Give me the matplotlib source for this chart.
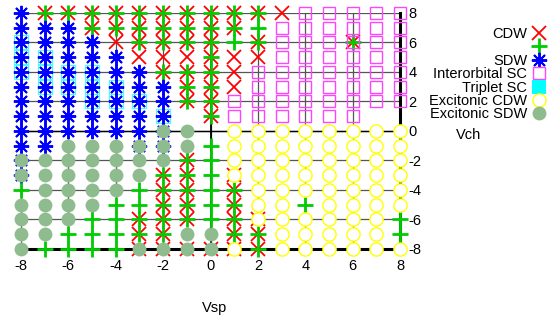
import matplotlib
matplotlib.use("Agg")
import matplotlib.pyplot as plt
from matplotlib.lines import Line2D

plt.rcParams['font.family'] = ['Liberation Sans', 'DejaVu Sans']
plt.rcParams['font.size'] = 10.5
plt.rcParams['axes.unicode_minus'] = False

# phase points: Vch -> list of Vsp
cdw = {8: list(range(-7, 4)), 7: list(range(-5, 2)), 6: [-4, -3, -2, -1, 0, 2, 6],
       5: [-3, -2, -1, 0, 1, 2], 4: [-2, -1, 0, 1], 3: [-1, 0, 1], 2: [-1, 0], 1: [0],
       -2: [-1], -3: [-2, -1, 1], -4: [-2, -1, 1], -5: [-2, -1, 1],
       -6: [-3, -2, -1, 1, 2], -7: [-3, -2, 1, 2], -8: [-3, -2, -1, 0, 1, 2]}
plus = {8: list(range(-7, 3)), 7: list(range(-5, 3)), 6: [-3, -2, -1, 0, 1, 2, 6],
        5: [0], 4: [-2, -1, 0], 3: [-1, 0], 2: [-1, 0], 1: [0], -1: [0],
        -2: [-1, 0], -3: [-2, -1, 0], -4: [-8, -3, -2, -1, 0, 1],
        -5: [-4, -3, -2, -1, 0, 1, 4], -6: [-5, -4, -3, -2, -1, 0, 1, 8],
        -7: [-6, -5, -4, -3, -2, 1, 2, 8], -8: [-7, -6, -5, -4, 2]}
sdw = {8: [-8], 7: [-8, -7, -6], 6: [-8, -7, -6, -5], 5: list(range(-8, -3)),
       4: list(range(-8, -2)), 3: list(range(-8, -1)), 2: list(range(-8, -1)),
       1: list(range(-8, -1)), 0: list(range(-8, -1)), -1: [-8, -7, -3, -2],
       -2: [-8], -3: [-8]}
triplet = {6: [-8], 5: [-8, -7], 4: [-8, -7, -6, -5], 3: [-7, -6, -5, -4],
           2: [-5, -4, -3], 1: [-2]}
inter_sc = {8: list(range(4, 9)), 7: list(range(3, 9)), 6: list(range(3, 9)),
            5: list(range(3, 9)), 4: list(range(2, 9)), 3: list(range(2, 9)),
            2: list(range(1, 9)), 1: list(range(1, 7))}
exc_cdw = {0: list(range(1, 9)), -1: list(range(1, 9)), -2: list(range(1, 9)),
           -3: list(range(1, 9)), -4: list(range(2, 9)), -5: [2, 3, 5, 6, 7, 8],
           -6: list(range(2, 8)), -7: list(range(3, 8)), -8: [1, 3, 4, 5, 6, 7, 8]}
exc_sdw = {0: [-2, -1], -1: list(range(-6, 0)), -2: list(range(-8, -1)),
           -3: list(range(-8, -2)), -4: [-7, -6, -5, -4], -5: [-8, -7, -6, -5],
           -6: [-8, -7, -6], -7: [-8, -7, -1, 0], -8: [-8, -3, -2, -1, 0]}

xticks = [-8, -6, -4, -2, 0, 2, 4, 6, 8]
yticks = [-8, -6, -4, -2, 0, 2, 4, 6, 8]


def pts(d):
    xs, ys = [], []
    for vch, vsps in d.items():
        for v in vsps:
            xs.append(v)
            ys.append(vch)
    return xs, ys


fig = plt.figure(figsize=(5.51, 3.22), dpi=100)
ax = fig.add_axes([21 / 551, 1 - 249 / 322, 379 / 551, 236 / 322])

# grid + zero axes
for v in xticks:
    ax.axvline(v, color='#555555', lw=0.9, zorder=0)
for v in yticks:
    ax.axhline(v, color='#555555', lw=0.9, zorder=0)
ax.axvline(0, color='black', lw=1.3, zorder=0.5)
ax.axhline(0, color='black', lw=1.0, zorder=0.5)

kw = dict(linestyle='none', clip_on=False)
x, y = pts(cdw)
ax.plot(x, y, marker='x', ms=9.5, mew=1.3, color='#ff0000', zorder=2, **kw)
x, y = pts(plus)
ax.plot(x, y, marker='+', ms=11, mew=2.0, color='#00cc00', zorder=3, **kw)
x, y = pts(triplet)
ax.plot(x, y, marker='s', ms=9.5, mew=0.8, mfc='white', mec='#40ffff', zorder=3.5, **kw)
x, y = pts(sdw)
ax.plot(x, y, marker=(8, 2, 0), ms=11, mew=1.4, color='#0000ff', zorder=4, **kw)
x, y = pts(inter_sc)
ax.plot(x, y, marker='s', ms=8.5, mew=1.0, mfc='none', mec='#ff44ff', zorder=5, **kw)
x, y = pts(exc_cdw)
ax.plot(x, y, marker='o', ms=9.5, mew=1.0, mfc='white', mec='#ffff00', zorder=6, **kw)
x, y = pts(exc_sdw)
ax.plot(x, y, marker='o', ms=10, mew=0, color='#8fbc8f', zorder=7, **kw)

ax.set_xlim(-8, 8)
ax.set_ylim(-8, 8)
ax.set_xticks(xticks)
ax.set_yticks(yticks)
ax.yaxis.tick_right()
ax.tick_params(length=0)
ax.tick_params(axis='x', pad=7)
ax.tick_params(axis='y', pad=6)
ax.set_facecolor('white')

for s in ['top', 'left']:
    ax.spines[s].set_visible(False)
for s in ['bottom', 'right']:
    ax.spines[s].set_linewidth(2.2)
    ax.spines[s].set_zorder(1)

ax.set_xlabel('Vsp')
ax.xaxis.set_label_coords(0.512, -0.22)
ax.yaxis.set_label_position('right')
ax.set_ylabel('Vch', rotation=0, va='center', ha='center')
ax.yaxis.set_label_coords(1.18, 0.485)

handles = [
    Line2D([], [], ls='none', marker='x', ms=9.5, mew=1.3, color='#ff0000', label='CDW'),
    Line2D([], [], ls='none', marker='+', ms=11, mew=2.0, color='#00cc00', label=' '),
    Line2D([], [], ls='none', marker=(8, 2, 0), ms=11, mew=1.4, color='#0000ff', label='SDW'),
    Line2D([], [], ls='none', marker='s', ms=8.5, mew=1.0, mfc='white', mec='#ff44ff', label='Interorbital SC'),
    Line2D([], [], ls='none', marker='s', ms=9.5, mew=0, color='#00ffff', label='Triplet SC'),
    Line2D([], [], ls='none', marker='o', ms=9.5, mew=1.0, mfc='white', mec='#ffff00', label='Excitonic CDW'),
    Line2D([], [], ls='none', marker='o', ms=10, mew=0, color='#8fbc8f', label='Excitonic SDW'),
]
fig.legend(handles=handles, loc='upper right', bbox_to_anchor=(546 / 551, 1 - 27 / 322),
           frameon=False, markerfirst=False, handlelength=1.0, handletextpad=0.3,
           labelspacing=-0.04, borderpad=0, borderaxespad=0)

fig.savefig('out.png', dpi=100)
